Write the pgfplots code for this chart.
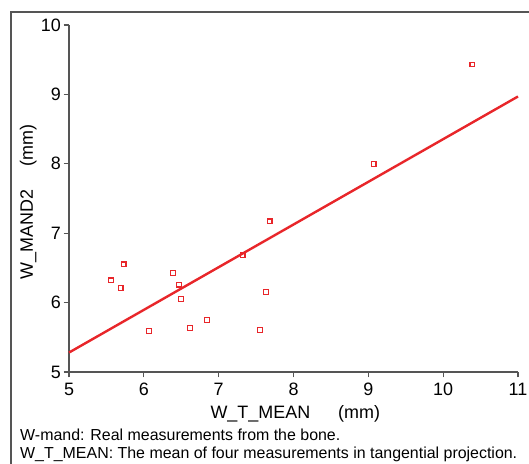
\documentclass[border=0pt]{standalone}
\usepackage{fontspec}
\setmainfont{Liberation Sans}
\usepackage{pgfplots}
\pgfplotsset{compat=1.18}
\definecolor{ptred}{HTML}{E8262A}
\definecolor{axgray}{HTML}{555555}

\begin{document}
\begin{tikzpicture}[x=1bp,y=1bp]
\useasboundingbox (0,0) rectangle (529,464);
\draw[line width=1.5bp, color=axgray] (11,-2) -- (11,452) -- (531,452);
\begin{axis}[
  at={(69bp,92bp)}, anchor=south west,
  scale only axis, width=449bp, height=347bp,
  xmin=5, xmax=11, ymin=5, ymax=10,
  axis x line*=bottom, axis y line*=left,
  axis line style={line width=1.5bp, color=axgray, -},
  tick style={line width=1.2bp, color=axgray},
  tick align=outside, major tick length=5.5bp,
  xtick={5,...,11}, ytick={5,...,10},
  ticklabel style={font=\fontsize{18}{18}\selectfont, inner sep=0pt},
  xticklabel style={yshift=-5bp},
  yticklabel style={xshift=-2.5bp},
  /pgf/number format/assume math mode=true,
  label style={font=\fontsize{18}{18}\selectfont},
  xlabel={W\_T\_MEAN\hspace{28bp}(mm)},
  ylabel={W\_MAND2\hspace{23bp}(mm)},
  xlabel style={at={(axis description cs:0.504,-0.1326)}, anchor=base},
  ylabel style={at={(axis description cs:-0.0802,0.49)}, anchor=base},
  clip=false,
]
\addplot[only marks, mark=square, mark size=2.4bp, mark options={ptred, line width=1.1bp}] coordinates {
  (10.39,9.43) (9.07,8.00) (7.68,7.17) (7.32,6.68) (7.63,6.15)
  (7.55,5.61) (6.84,5.75) (6.62,5.63) (6.07,5.59) (6.50,6.05)
  (6.47,6.26) (6.39,6.43) (5.73,6.55) (5.56,6.32) (5.69,6.21)
};
\addplot[ptred, line width=2.4bp] coordinates {(5,5.28) (11,8.97)};
\end{axis}
\node[anchor=base west, inner sep=0pt, font=\fontsize{16}{16}\selectfont] at (20,23) {W-mand: Real measurements from the bone.};
\node[anchor=base west, inner sep=0pt, font=\fontsize{16}{16}\selectfont] at (20,5) {W\_T\_MEAN: The mean of four measurements in tangential projection.};
\end{tikzpicture}
\end{document}
